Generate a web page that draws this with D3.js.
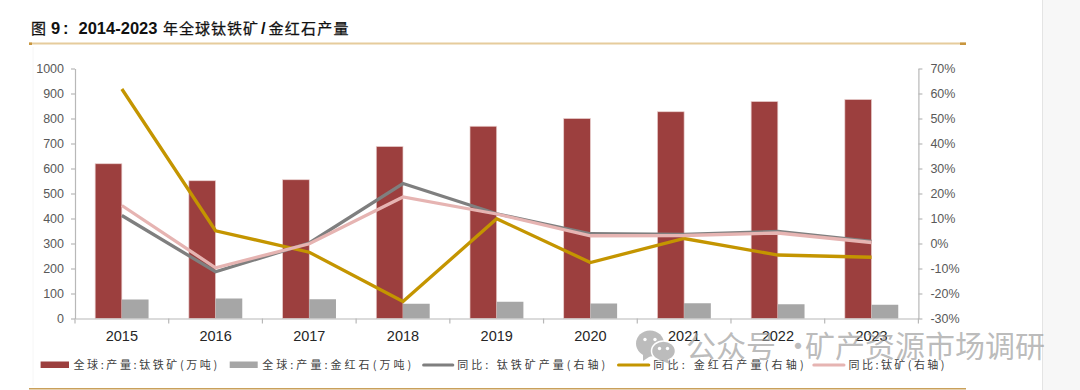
<!DOCTYPE html>
<html>
<head>
<meta charset="utf-8">
<script src="https://cdn.jsdelivr.net/npm/d3@7"></script>
<style>
  html, body { margin: 0; padding: 0; background: #fff; }
  svg { display: block; }
  text { font-family: "Liberation Sans", Arial, "Noto Sans CJK SC", sans-serif; }
  .cjk { font-family: "Noto Sans CJK SC", sans-serif; }
</style>
</head>
<body>
<div id="chart"></div>
<script>
const years = ['2015', '2016', '2017', '2018', '2019', '2020', '2021', '2022', '2023'];
const ilmenite = [619, 551, 555, 688, 769, 800, 827, 868, 876];
const rutile = [76, 80, 77, 59, 67, 60, 61, 57, 55];
const ilmeniteYoy = [11.2, -11.3, 0.2, 24, 11.9, 3.9, 3.6, 4.8, 0.8];
const rutileYoy = [61.8, 5.1, -3.5, -23.2, 9.9, -7.6, 2, -4.6, -5.5];
const titaniumYoy = [15.2, -9.7, -0.1, 18.6, 11.8, 3.1, 3.2, 4.2, 0.4];
const leftTicks = [0, 100, 200, 300, 400, 500, 600, 700, 800, 900, 1000];
const rightTicks = [-30, -20, -10, 0, 10, 20, 30, 40, 50, 60, 70];
const legendLabels = ['全球:产量:钛铁矿(万吨)', '全球:产量:金红石(万吨)', '同比: 钛铁矿产量(右轴)', '同比: 金红石产量(右轴)', '同比:钛矿(右轴)'];

const width = 1080, height = 390;
const margin = {top: 68.5, right: 161.6, bottom: 71.5, left: 75};
const axisColor = '#b8b8b8', labelColor = '#595959';
const colors = {ilmenite: '#9c3f3e', rutile: '#a6a6a6', ilmeniteYoy: '#7f7f7f', rutileYoy: '#c49500', titaniumYoy: '#e6b4b2'};

const svg = d3.select('#chart').append('svg')
    .attr('width', width)
    .attr('height', height);

// page strip on the right and the thin frame of the pasted chart
svg.append('rect').attr('x', 1043).attr('y', 0).attr('width', 37).attr('height', height).attr('fill', '#f7f7f7');
svg.append('line').attr('x1', 1042.5).attr('x2', 1042.5).attr('y1', 0).attr('y2', height).attr('stroke', '#e4e4e4');
svg.append('line').attr('x1', 33).attr('x2', 33).attr('y1', 47).attr('y2', 386).attr('stroke', '#f6f6f6');

// title and rules
const titleFont = g => g.attr('font-size', 16.5).attr('fill', '#111').attr('y', 34);
const titleLatin = (x, s) => svg.append('text').call(titleFont).attr('x', x).attr('font-weight', 'bold').text(s);
const titleCjk = (x, w, s) => svg.append('text').call(titleFont).attr('class', 'cjk').attr('x', x)
    .attr('font-size', 15).attr('stroke', '#111').attr('stroke-width', 0.25)
    .attr('textLength', w).attr('lengthAdjust', 'spacing').text(s);
titleCjk(31, 15, '图');
titleLatin(51, '9');
titleLatin(63, ':');
titleLatin(78.5, '2014-2023');
titleCjk(163, 95, '年全球钛铁矿');
titleLatin(261, '/');
titleCjk(268.6, 80, '金红石产量');

svg.append('rect').attr('x', 29).attr('y', 42.5).attr('width', 937).attr('height', 2).attr('fill', '#e6cc9c');
svg.append('rect').attr('x', 29).attr('y', 42.5).attr('width', 3).attr('height', 2.5).attr('fill', '#c8963e');
svg.append('rect').attr('x', 960).attr('y', 42.5).attr('width', 6).attr('height', 2.5).attr('fill', '#c8963e');
svg.append('rect').attr('x', 29).attr('y', 388).attr('width', 937).attr('height', 1.5).attr('fill', '#c9a05a');

// scales
const innerW = width - margin.left - margin.right;
const innerH = height - margin.top - margin.bottom;
const g = svg.append('g').attr('transform', `translate(${margin.left},${margin.top})`);

const x = d3.scaleBand().domain(years).range([0, innerW]);
const barW = x.bandwidth() * 0.285;
const yLeft = d3.scaleLinear().domain([0, 1000]).range([innerH, 0]);
const yRight = d3.scaleLinear().domain([-30, 70]).range([innerH, 0]);
const cx = d => x(d) + x.bandwidth() / 2;

// bars
g.selectAll('.bar-a').data(years).enter().append('rect')
    .attr('class', 'bar-a')
    .attr('x', d => cx(d) - barW)
    .attr('y', (d, i) => yLeft(ilmenite[i]))
    .attr('width', barW)
    .attr('height', (d, i) => innerH - yLeft(ilmenite[i]))
    .attr('fill', colors.ilmenite)
    .attr('stroke', '#e9cfce').attr('stroke-width', 0.7);

g.selectAll('.bar-b').data(years).enter().append('rect')
    .attr('class', 'bar-b')
    .attr('x', d => cx(d))
    .attr('y', (d, i) => yLeft(rutile[i]))
    .attr('width', barW)
    .attr('height', (d, i) => innerH - yLeft(rutile[i]))
    .attr('fill', colors.rutile);

// axes
const styleAxis = a => {
  a.select('.domain').attr('stroke', axisColor).attr('stroke-width', 1.2);
  a.selectAll('.tick line').attr('stroke', axisColor).attr('stroke-width', 1.2);
  a.selectAll('.tick text').attr('font-family', '"Liberation Sans", Arial, sans-serif').attr('fill', labelColor).attr('font-size', 12.5);
};

const leftAxis = g.append('g')
    .call(d3.axisLeft(yLeft).tickValues(leftTicks).tickSize(4).tickSizeOuter(0).tickPadding(7).tickFormat(d3.format('d')));
styleAxis(leftAxis);

const rightAxis = g.append('g')
    .attr('transform', `translate(${innerW},0)`)
    .call(d3.axisRight(yRight).tickValues(rightTicks).tickSize(4).tickSizeOuter(0).tickPadding(8).tickFormat(d => d + '%'));
styleAxis(rightAxis);

const bottomAxis = g.append('g')
    .attr('transform', `translate(0,${innerH})`)
    .call(d3.axisBottom(x).tickSize(0).tickPadding(12));
styleAxis(bottomAxis);
bottomAxis.selectAll('.tick text').attr('fill', '#262626').attr('font-size', 14.5);

// x ticks sit on the band edges, not the centres
g.selectAll('.edge-tick').data(years.concat('end')).enter().append('line')
    .attr('class', 'edge-tick')
    .attr('x1', (d, i) => i * x.step())
    .attr('x2', (d, i) => i * x.step())
    .attr('y1', innerH)
    .attr('y2', innerH + 5)
    .attr('stroke', axisColor)
    .attr('stroke-width', 1.2);

// lines
const line = d3.line().x((d, i) => cx(years[i])).y(d => yRight(d));
[[ilmeniteYoy, colors.ilmeniteYoy], [rutileYoy, colors.rutileYoy], [titaniumYoy, colors.titaniumYoy]].forEach(s => {
  g.append('path')
      .datum(s[0])
      .attr('d', line)
      .attr('fill', 'none')
      .attr('stroke', s[1])
      .attr('stroke-width', 3.3);
});

// legend
const legendX = [40.6, 229.7, 423.6, 618.5, 813.8];
const swatchW = [28.4, 28, 29.2, 30.3, 30.2];
const legendTextW = [143.6, 149, 148, 150.4, 96];
const legendColors = [colors.ilmenite, colors.rutile, colors.ilmeniteYoy, colors.rutileYoy, colors.titaniumYoy];
const legendY = 365;
legendLabels.forEach((label, i) => {
  if (i < 2) {
    svg.append('rect').attr('x', legendX[i]).attr('y', legendY - 3.5).attr('width', swatchW[i]).attr('height', 6.5).attr('fill', legendColors[i]);
  } else {
    svg.append('line').attr('x1', legendX[i]).attr('x2', legendX[i] + swatchW[i])
        .attr('y1', legendY).attr('y2', legendY)
        .attr('stroke', legendColors[i]).attr('stroke-width', 3).attr('stroke-linecap', 'round');
  }
  svg.append('text')
      .attr('class', 'cjk')
      .attr('x', legendX[i] + swatchW[i] + 4.5)
      .attr('y', legendY + 4)
      .attr('font-size', 11)
      .attr('fill', '#404040')
      .attr('textLength', legendTextW[i])
      .attr('lengthAdjust', 'spacing')
      .text(label);
});

// watermark
const mark = svg.append('g').attr('opacity', 0.72).attr('fill', '#a3a3a3');
mark.append('ellipse').attr('cx', 650).attr('cy', 343.5).attr('rx', 14).attr('ry', 13);
mark.append('path').attr('d', 'M643,353 L643,361 L652,355 Z');
mark.append('ellipse').attr('cx', 663.5).attr('cy', 351).attr('rx', 12).attr('ry', 10).attr('stroke', '#fff').attr('stroke-width', 1.5);
mark.append('path').attr('d', 'M667,359 L672,365 L660,360 Z');
[[645, 339.5], [655, 339.5], [659.5, 348.5], [667.5, 348.5]].forEach(p => {
  mark.append('circle').attr('cx', p[0]).attr('cy', p[1]).attr('r', 1.7).attr('fill', '#fff');
});
const wmText = svg.append('text')
    .attr('class', 'cjk')
    .attr('y', 357)
    .attr('font-size', 30)
    .attr('font-weight', 400)
    .attr('fill', '#9a9a9a')
    .attr('fill-opacity', 0.68);
wmText.append('tspan').attr('x', 686).text('公众号');
wmText.append('tspan').attr('x', 783).text('·');
wmText.append('tspan').attr('x', 805).text('矿产资源市场调研');
</script>
</body>
</html>
